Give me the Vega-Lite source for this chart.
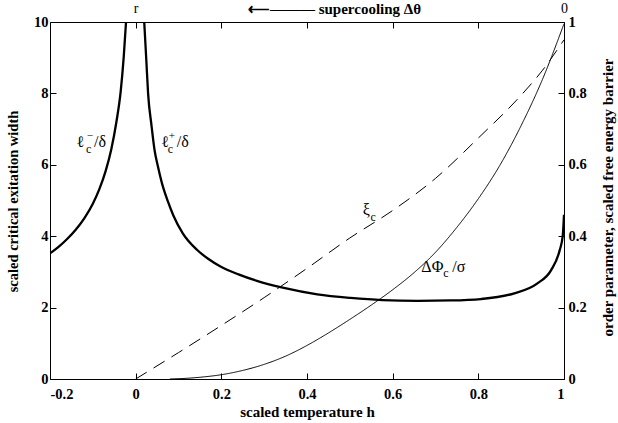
{
  "$schema": "https://vega.github.io/schema/vega-lite/v6.json",
  "width": 514,
  "height": 357,
  "autosize": {"type": "none"},
  "padding": {"left": 50, "top": 22, "right": 54, "bottom": 44},
  "background": "white",
  "config": {
    "view": {"stroke": null},
    "axis": {
      "labelFont": "Liberation Serif",
      "titleFont": "Liberation Serif",
      "labelFontWeight": "bold",
      "titleFontWeight": "bold",
      "labelColor": "black",
      "titleColor": "black",
      "domainColor": "black",
      "tickColor": "black",
      "labelFontSize": 14.5,
      "titleFontSize": 15,
      "grid": false,
      "tickSize": -6,
      "domainWidth": 1,
      "tickWidth": 1,
      "zindex": 1
    }
  },
  "resolve": {"scale": {"y": "independent"}, "axis": {"x": "independent"}},
  "datasets": {
    "thick": [
      {"branch": "L", "h": -0.2, "v": 3.52},
      {"branch": "L", "h": -0.18, "v": 3.7},
      {"branch": "L", "h": -0.16, "v": 3.92},
      {"branch": "L", "h": -0.14, "v": 4.18},
      {"branch": "L", "h": -0.12, "v": 4.5},
      {"branch": "L", "h": -0.1, "v": 4.91},
      {"branch": "L", "h": -0.085, "v": 5.31},
      {"branch": "L", "h": -0.07, "v": 5.83},
      {"branch": "L", "h": -0.057, "v": 6.43},
      {"branch": "L", "h": -0.045, "v": 7.2},
      {"branch": "L", "h": -0.035, "v": 8.05},
      {"branch": "L", "h": -0.028, "v": 9.0},
      {"branch": "L", "h": -0.0225, "v": 10},
      {"branch": "R", "h": 0.02, "v": 10},
      {"branch": "R", "h": 0.025, "v": 8.9},
      {"branch": "R", "h": 0.029, "v": 8.0},
      {"branch": "R", "h": 0.037, "v": 7.1},
      {"branch": "R", "h": 0.044, "v": 6.42},
      {"branch": "R", "h": 0.052, "v": 5.95},
      {"branch": "R", "h": 0.061, "v": 5.5},
      {"branch": "R", "h": 0.075, "v": 4.98},
      {"branch": "R", "h": 0.088, "v": 4.58},
      {"branch": "R", "h": 0.11, "v": 4.08},
      {"branch": "R", "h": 0.143, "v": 3.62},
      {"branch": "R", "h": 0.17, "v": 3.36},
      {"branch": "R", "h": 0.198, "v": 3.15},
      {"branch": "R", "h": 0.24, "v": 2.93},
      {"branch": "R", "h": 0.283, "v": 2.75},
      {"branch": "R", "h": 0.346, "v": 2.55},
      {"branch": "R", "h": 0.424, "v": 2.37},
      {"branch": "R", "h": 0.502, "v": 2.27},
      {"branch": "R", "h": 0.576, "v": 2.21},
      {"branch": "R", "h": 0.658, "v": 2.19},
      {"branch": "R", "h": 0.736, "v": 2.2},
      {"branch": "R", "h": 0.806, "v": 2.24},
      {"branch": "R", "h": 0.884, "v": 2.4},
      {"branch": "R", "h": 0.938, "v": 2.68},
      {"branch": "R", "h": 0.97, "v": 3.05},
      {"branch": "R", "h": 0.99, "v": 3.61},
      {"branch": "R", "h": 0.997, "v": 4.0},
      {"branch": "R", "h": 1.0, "v": 4.6}
    ],
    "thin": [
      {"series": "xi", "h": 0.0, "r": 0.0},
      {"series": "xi", "h": 0.1, "r": 0.074},
      {"series": "xi", "h": 0.2, "r": 0.15},
      {"series": "xi", "h": 0.3, "r": 0.228},
      {"series": "xi", "h": 0.4, "r": 0.31},
      {"series": "xi", "h": 0.5, "r": 0.395},
      {"series": "xi", "h": 0.6, "r": 0.472},
      {"series": "xi", "h": 0.7, "r": 0.562},
      {"series": "xi", "h": 0.8, "r": 0.675},
      {"series": "xi", "h": 0.9, "r": 0.795},
      {"series": "xi", "h": 0.95, "r": 0.865},
      {"series": "xi", "h": 1.0, "r": 0.95},
      {"series": "phi", "h": 0.08, "r": 0.0},
      {"series": "phi", "h": 0.12, "r": 0.002},
      {"series": "phi", "h": 0.16, "r": 0.006},
      {"series": "phi", "h": 0.2, "r": 0.012},
      {"series": "phi", "h": 0.25, "r": 0.024},
      {"series": "phi", "h": 0.3, "r": 0.041},
      {"series": "phi", "h": 0.35, "r": 0.064},
      {"series": "phi", "h": 0.4, "r": 0.094},
      {"series": "phi", "h": 0.45, "r": 0.129},
      {"series": "phi", "h": 0.5, "r": 0.167},
      {"series": "phi", "h": 0.55, "r": 0.207},
      {"series": "phi", "h": 0.6, "r": 0.25},
      {"series": "phi", "h": 0.65, "r": 0.298},
      {"series": "phi", "h": 0.7, "r": 0.355},
      {"series": "phi", "h": 0.75, "r": 0.425},
      {"series": "phi", "h": 0.8, "r": 0.505},
      {"series": "phi", "h": 0.85, "r": 0.598},
      {"series": "phi", "h": 0.9, "r": 0.71},
      {"series": "phi", "h": 0.95, "r": 0.84},
      {"series": "phi", "h": 1.0, "r": 0.995}
    ],
    "mainText": [
      {"h": -0.139, "v": 6.5, "t": "ℓ"},
      {"h": -0.097, "v": 6.5, "t": "/δ"},
      {"h": 0.059, "v": 6.5, "t": "ℓ"},
      {"h": 0.096, "v": 6.5, "t": "/δ"},
      {"h": 0.53, "v": 4.59, "t": "ξ"},
      {"h": 0.667, "v": 3.0, "t": "ΔΦ"},
      {"h": 0.739, "v": 3.0, "t": "/σ"}
    ],
    "subText": [
      {"h": -0.116, "v": 6.33, "t": "c"},
      {"h": 0.075, "v": 6.33, "t": "c"},
      {"h": 0.548, "v": 4.43, "t": "c"},
      {"h": 0.718, "v": 2.86, "t": "c"}
    ],
    "supText": [
      {"h": -0.114, "v": 6.72, "t": "−"},
      {"h": 0.077, "v": 6.72, "t": "+"}
    ]
  },
  "layer": [
    {
      "data": {"name": "thick"},
      "mark": {"type": "line", "color": "black", "strokeWidth": 2.3, "interpolate": "monotone", "clip": true},
      "encoding": {
        "x": {
          "field": "h", "type": "quantitative",
          "scale": {"domain": [-0.2, 1], "nice": false, "zero": false},
          "axis": {
            "orient": "bottom",
            "values": [-0.2, 0, 0.2, 0.4, 0.6, 0.8, 1],
            "labelExpr": "replace(format(datum.value, '.1~f'), '−', '-')",
            "labelPadding": 14,
            "title": "scaled temperature  h",
            "titleY": 37,
            "titleBaseline": "alphabetic"
          }
        },
        "y": {
          "field": "v", "type": "quantitative",
          "scale": {"domain": [0, 10], "nice": false},
          "axis": {
            "orient": "left",
            "values": [0, 2, 4, 6, 8, 10],
            "labelPadding": 8,
            "title": "scaled critical exitation width",
            "titleFontSize": 14.5,
            "titleAngle": -90,
            "titleX": -37,
            "titleY": 179,
            "titleAlign": "center",
            "titleBaseline": "middle"
          }
        },
        "detail": {"field": "branch"},
        "order": {"field": "h", "type": "quantitative"}
      }
    },
    {
      "data": {"name": "thin"},
      "mark": {"type": "line", "color": "black", "strokeWidth": 1, "interpolate": "monotone"},
      "encoding": {
        "x": {
          "field": "h", "type": "quantitative",
          "scale": {"domain": [-0.2, 1], "nice": false, "zero": false},
          "axis": {
            "orient": "top",
            "values": [0, 0.2, 0.4, 0.6, 0.8, 1],
            "labelExpr": "datum.value == 0 ? 'r' : (datum.value == 1 ? '0' : '')",
            "labelFontWeight": "normal",
            "labelColor": "#000000",
            "labelFontSize": 14,
            "labelPadding": 13,
            "labelFlush": false,
            "title": "⟵———  supercooling Δθ",
            "titleFontSize": 15,
            "titleX": 284,
            "titleY": -9,
            "titleAlign": "center",
            "titleBaseline": "alphabetic"
          }
        },
        "y": {
          "field": "r", "type": "quantitative",
          "scale": {"domain": [0, 1], "nice": false},
          "axis": {
            "orient": "right",
            "values": [0, 0.2, 0.4, 0.6, 0.8, 1],
            "labelExpr": "format(datum.value, '.1~f')",
            "labelPadding": 10,
            "title": "order parameter, scaled free energy barrier",
            "titleAngle": -90,
            "titleX": 43,
            "titleY": 175,
            "titleAlign": "center",
            "titleBaseline": "middle"
          }
        },
        "strokeDash": {
          "field": "series", "type": "nominal",
          "scale": {"domain": ["xi", "phi"], "range": [[13, 8], [1, 0]]},
          "legend": null
        },
        "detail": {"field": "series"},
        "order": {"field": "h", "type": "quantitative"}
      }
    },
    {
      "data": {"name": "mainText"},
      "mark": {"type": "text", "font": "Liberation Serif, DejaVu Serif", "fontSize": 16, "align": "left", "baseline": "alphabetic", "color": "black"},
      "encoding": {
        "x": {"field": "h", "type": "quantitative", "scale": {"domain": [-0.2, 1], "nice": false, "zero": false}, "axis": null},
        "y": {"field": "v", "type": "quantitative", "scale": {"domain": [0, 10], "nice": false}, "axis": null},
        "text": {"field": "t"}
      }
    },
    {
      "data": {"name": "subText"},
      "mark": {"type": "text", "font": "Liberation Serif, DejaVu Serif", "fontSize": 12, "align": "left", "baseline": "alphabetic", "color": "black"},
      "encoding": {
        "x": {"field": "h", "type": "quantitative", "scale": {"domain": [-0.2, 1], "nice": false, "zero": false}, "axis": null},
        "y": {"field": "v", "type": "quantitative", "scale": {"domain": [0, 10], "nice": false}, "axis": null},
        "text": {"field": "t"}
      }
    },
    {
      "data": {"name": "supText"},
      "mark": {"type": "text", "font": "Liberation Serif, DejaVu Serif", "fontSize": 11, "align": "left", "baseline": "alphabetic", "color": "black"},
      "encoding": {
        "x": {"field": "h", "type": "quantitative", "scale": {"domain": [-0.2, 1], "nice": false, "zero": false}, "axis": null},
        "y": {"field": "v", "type": "quantitative", "scale": {"domain": [0, 10], "nice": false}, "axis": null},
        "text": {"field": "t"}
      }
    }
  ]
}
